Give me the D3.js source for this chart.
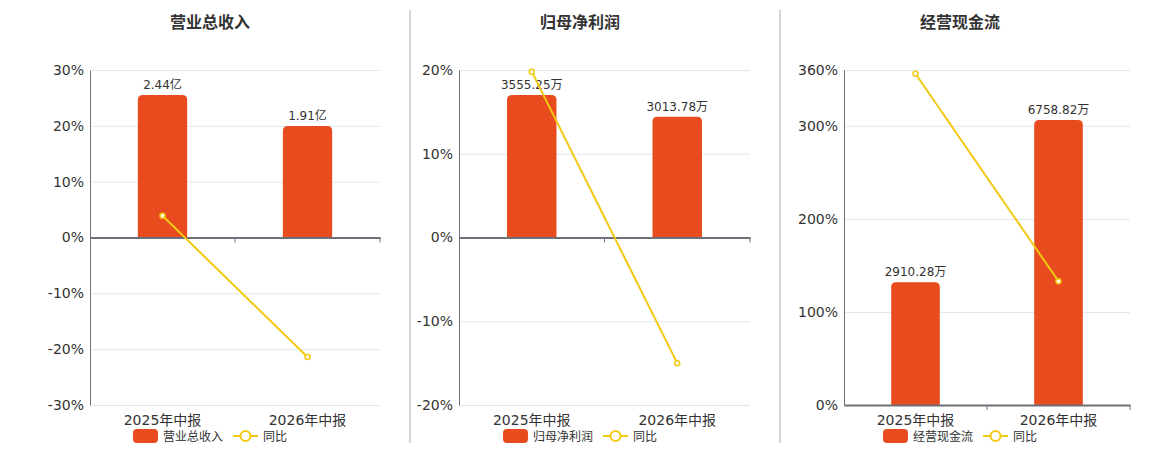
<html>
<head>
<meta charset="utf-8">
<title>三图</title>
<script src="https://d3js.org/d3.v7.min.js"></script>
<style>
  body { margin: 0; background: #fff; }
  text { font-family: "DejaVu Sans", "Noto Sans CJK SC", sans-serif; }
</style>
</head>
<body>
<svg width="1160" height="450"></svg>
<script>
// data
var categories = ["2025年中报", "2026年中报"];
var titles = ["营业总收入", "归母净利润", "经营现金流"];
var revenue = [2.44, 1.91];
var revenueLabels = ["2.44亿", "1.91亿"];
var revenueYoY = [3.9, -21.4];
var revenueTicks = [-30, -20, -10, 0, 10, 20, 30];
var profit = [3555.25, 3013.78];
var profitLabels = ["3555.25万", "3013.78万"];
var profitYoY = [19.8, -15.0];
var profitTicks = [-20, -10, 0, 10, 20];
var cashflow = [2910.28, 6758.82];
var cashflowLabels = ["2910.28万", "6758.82万"];
var cashflowYoY = [356, 133];
var cashflowTicks = [0, 100, 200, 300, 360];

var barColor = "#E84C1E", lineColor = "#F2C811";

var svg = d3.select("svg");

var panels = [
  {title: titles[0], bars: revenue, labels: revenueLabels, yoy: revenueYoY, ticks: revenueTicks, left: 90, right: 380, cx: 210},
  {title: titles[1], bars: profit, labels: profitLabels, yoy: profitYoY, ticks: profitTicks, left: 459, right: 750, cx: 580},
  {title: titles[2], bars: cashflow, labels: cashflowLabels, yoy: cashflowYoY, ticks: cashflowTicks, left: 844, right: 1130, cx: 960}
];

var plotTop = 70, plotBottom = 405;

// dividers
[410, 780].forEach(function(x){
  svg.append("line").attr("x1", x).attr("x2", x).attr("y1", 10).attr("y2", 443)
    .attr("stroke", "#aaa").attr("stroke-width", 1);
});

panels.forEach(function(p){
  var g = svg.append("g");
  var y = d3.scaleLinear().domain(d3.extent(p.ticks)).range([plotBottom, plotTop]);
  var x = d3.scaleBand().domain(categories).range([p.left, p.right]);
  var barMax = d3.max(p.bars) * 1.175;
  var yb = d3.scaleLinear().domain([0, barMax]).range([y(0), plotTop]);
  var bw = x.bandwidth() * 0.34;
  var cx = function(c){ return x(c) + x.bandwidth() / 2; };

  g.append("text").attr("x", p.cx).attr("y", 28).attr("text-anchor", "middle")
    .attr("font-size", 16).attr("font-weight", "bold").attr("fill", "#333").text(p.title);

  // grid
  g.selectAll(".grid").data(p.ticks).enter().append("line")
    .attr("x1", p.left).attr("x2", p.right)
    .attr("y1", function(d){ return y(d) + 0.5; }).attr("y2", function(d){ return y(d) + 0.5; })
    .attr("stroke", "#E0E6F1");

  // y axis
  var yAxis = d3.axisLeft(y).tickValues(p.ticks).tickSize(0).tickPadding(6)
    .tickFormat(function(d){ return d + "%"; });
  var ya = g.append("g").attr("transform", "translate(" + p.left + ",0)").call(yAxis);
  ya.select(".domain").attr("stroke", "#6E7079");
  ya.selectAll("text").attr("font-size", 14).attr("fill", "#333")
    .style("font-family", '"DejaVu Sans", "Noto Sans CJK SC", sans-serif');

  // bars
  g.selectAll(".bar").data(p.bars).enter().append("path")
    .attr("fill", barColor)
    .attr("d", function(d, i){
      var x0 = cx(categories[i]) - bw / 2, y0 = yb(d), y1 = yb(0), r = 5;
      return "M" + x0 + "," + y1 + "V" + (y0 + r) + "Q" + x0 + "," + y0 + " " + (x0 + r) + "," + y0 +
        "H" + (x0 + bw - r) + "Q" + (x0 + bw) + "," + y0 + " " + (x0 + bw) + "," + (y0 + r) + "V" + y1 + "Z";
    });
  g.selectAll(".blabel").data(p.bars).enter().append("text")
    .attr("x", function(d, i){ return cx(categories[i]); })
    .attr("y", function(d){ return yb(d) - 6; })
    .attr("text-anchor", "middle").attr("font-size", 12).attr("fill", "#333")
    .text(function(d, i){ return p.labels[i]; });

  // x axis at zero
  var xAxis = d3.axisBottom(x).tickSize(0).tickPadding(0).tickFormat("");
  var xa = g.append("g").attr("transform", "translate(0," + y(0) + ")").call(xAxis);
  xa.select(".domain").attr("stroke", "#6E7079").attr("stroke-width", 2);
  [p.left + x.bandwidth(), p.right].forEach(function(t){
    g.append("line").attr("x1", t).attr("x2", t).attr("y1", y(0)).attr("y2", y(0) + 5)
      .attr("stroke", "#6E7079");
  });
  g.selectAll(".xl").data(categories).enter().append("text")
    .attr("x", cx).attr("y", 425).attr("text-anchor", "middle")
    .attr("font-size", 14).attr("fill", "#333").text(function(d){ return d; });

  // line
  var line = d3.line().x(function(d, i){ return cx(categories[i]); }).y(function(d){ return y(d); });
  g.append("path").datum(p.yoy).attr("d", line).attr("fill", "none")
    .attr("stroke", lineColor).attr("stroke-width", 2);
  g.selectAll(".pt").data(p.yoy).enter().append("circle")
    .attr("cx", function(d, i){ return cx(categories[i]); }).attr("cy", function(d){ return y(d); })
    .attr("r", 2.5).attr("fill", "#fff").attr("stroke", lineColor).attr("stroke-width", 1.5);

  // legend
  var lg = g.append("g");
  lg.append("rect").attr("x", 0).attr("y", -7).attr("width", 25).attr("height", 14).attr("rx", 4)
    .attr("fill", barColor);
  lg.append("text").attr("x", 30).attr("y", 4.5).attr("font-size", 12).attr("fill", "#333").text(p.title);
  var lx = 30 + lg.select("text").node().getComputedTextLength() + 10;
  lg.append("line").attr("x1", lx).attr("x2", lx + 25).attr("y1", 0).attr("y2", 0)
    .attr("stroke", lineColor).attr("stroke-width", 2);
  lg.append("circle").attr("cx", lx + 12.5).attr("cy", 0).attr("r", 5)
    .attr("fill", "#fff").attr("stroke", lineColor).attr("stroke-width", 2);
  lg.append("text").attr("x", lx + 30).attr("y", 4.5).attr("font-size", 12).attr("fill", "#333").text("同比");
  var bb = lg.node().getBBox();
  lg.attr("transform", "translate(" + (p.cx - bb.width / 2) + ",436)");
});
</script>
</body>
</html>
